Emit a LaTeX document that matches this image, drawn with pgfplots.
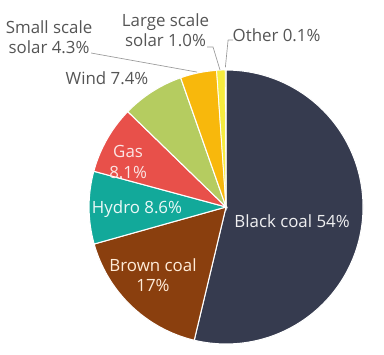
\documentclass[border=0pt]{standalone}
\usepackage{fontspec}
\setmainfont{Open Sans}
\usepackage{pgfplots}
\pgfplotsset{compat=1.18}
\definecolor{cblack}{HTML}{363B4F}
\definecolor{cbrown}{HTML}{8A3F0E}
\definecolor{chydro}{HTML}{12A99A}
\definecolor{cgas}{HTML}{E8504A}
\definecolor{cwind}{HTML}{B5CC60}
\definecolor{csmall}{HTML}{F8B80C}
\definecolor{clarge}{HTML}{F6EC3E}
\definecolor{cother}{HTML}{E8E0B0}
\definecolor{ctext}{HTML}{555555}
\definecolor{cline}{HTML}{9A9A9A}
\newcommand{\lab}{\fontsize{12.5}{15}\selectfont}
\begin{document}
\begin{tikzpicture}
\begin{axis}[scale only axis, width=10cm, height=9.21875cm,
  xmin=-1.650, xmax=1.153, ymin=-1.073, ymax=1.511, hide axis, clip=false]
\path (rel axis cs:0,0) rectangle (rel axis cs:1,1);
% shares (percent), total 100.5, clockwise from 12 o'clock
% Black coal 54, Brown coal 17, Hydro 8.6, Gas 8.1, Wind 7.4, Small solar 4.3, Large solar 1.0, Other 0.1
\addplot[fill=cblack, draw=white, line width=0.8pt, no markers, domain=-103.43:90, samples=120] ({cos(x)},{sin(x)}) -- (axis cs:0,0) -- cycle;
\addplot[fill=cbrown, draw=white, line width=0.8pt, no markers, domain=-164.33:-103.43, samples=40] ({cos(x)},{sin(x)}) -- (axis cs:0,0) -- cycle;
\addplot[fill=chydro, draw=white, line width=0.8pt, no markers, domain=-195.13:-164.33, samples=25] ({cos(x)},{sin(x)}) -- (axis cs:0,0) -- cycle;
\addplot[fill=cgas, draw=white, line width=0.8pt, no markers, domain=-224.15:-195.13, samples=25] ({cos(x)},{sin(x)}) -- (axis cs:0,0) -- cycle;
\addplot[fill=cwind, draw=white, line width=0.8pt, no markers, domain=-250.66:-224.15, samples=25] ({cos(x)},{sin(x)}) -- (axis cs:0,0) -- cycle;
\addplot[fill=csmall, draw=white, line width=0.8pt, no markers, domain=-266.06:-250.66, samples=15] ({cos(x)},{sin(x)}) -- (axis cs:0,0) -- cycle;
\addplot[fill=clarge, draw=white, line width=0.6pt, no markers, domain=-269.64:-266.06, samples=5] ({cos(x)},{sin(x)}) -- (axis cs:0,0) -- cycle;
\addplot[fill=cother, draw=white, line width=0.3pt, no markers, domain=-270:-269.64, samples=3] ({cos(x)},{sin(x)}) -- (axis cs:0,0) -- cycle;
% labels
\node[font=\lab, text=white!92!cblack] at (axis cs:0.482,-0.102) {Black coal 54\%};
\node[font=\lab, text=white!85!orange, align=center] at (axis cs:-0.533,-0.496) {Brown coal\\17\%};
\node[font=\lab, text=white!92!chydro] at (axis cs:-0.650,-0.015) {Hydro 8.6\%};
\node[font=\lab, text=white!85!cgas, align=center] at (axis cs:-0.715,0.328) {Gas\\8.1\%};
\node[font=\lab, text=ctext] at (axis cs:-0.869,0.942) {Wind 7.4\%};
\node[font=\lab, text=ctext, align=center] at (axis cs:-1.292,1.237) {Small scale\\solar 4.3\%};
\node[font=\lab, text=ctext, align=center] at (axis cs:-0.442,1.288) {Large scale\\solar 1.0\%};
\node[font=\lab, text=ctext] at (axis cs:0.369,1.255) {Other 0.1\%};
% leader lines
\draw[cline, line width=0.5pt] (axis cs:-0.985,1.124) -- (axis cs:-0.212,0.985);
\draw[cline, line width=0.5pt] (axis cs:-0.139,1.168) -- (axis cs:-0.095,1.168) -- (axis cs:-0.044,1.0);
\draw[cline, line width=0.5pt] (axis cs:0.051,1.219) -- (axis cs:0.015,1.219) -- (axis cs:-0.005,1.02);
\end{axis}
\end{tikzpicture}
\end{document}
